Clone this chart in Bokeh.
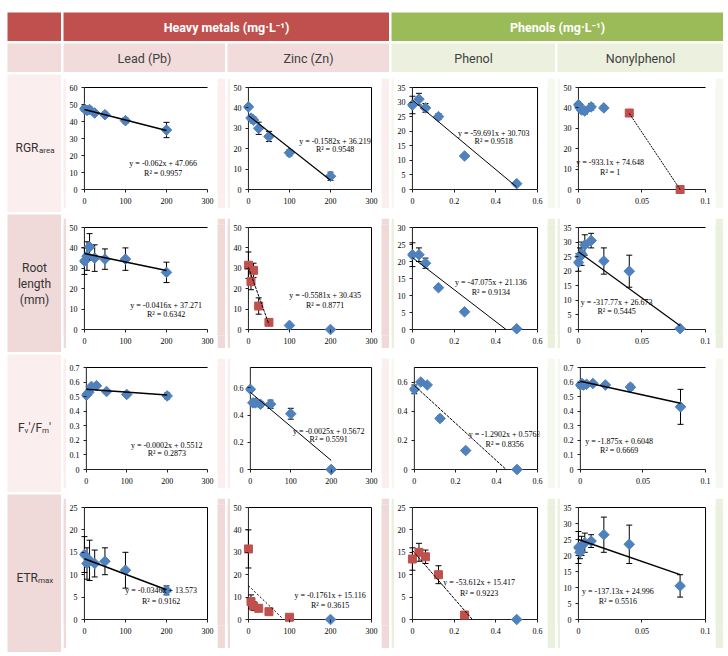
import math
from bokeh.plotting import figure
from bokeh.layouts import row, column
from bokeh.models import Range1d, Label, FixedTicker, Spacer
from bokeh.embed import file_html
from bokeh.resources import INLINE

# ---------------- data ----------------
PB_X = [0, 6.25, 12.5, 25, 50, 100, 200]
ZN_X = [0, 6.25, 12.5, 25, 50, 100, 200]
PH_X = [0, 0.03125, 0.0625, 0.125, 0.25, 0.5]
NP_X = [0, 0.00125, 0.0025, 0.005, 0.01, 0.02, 0.04, 0.08]

# RGR_area
RGR_PB_Y = [47.5, 46.5, 47, 45, 44, 40.5, 35]
RGR_PB_ERR = [1.5, 1.5, 1.5, 1.5, 1.5, 1.5, 4.5]
RGR_ZN_Y = [40.5, 35, 34, 30, 26, 18, 6.5]
RGR_ZN_ERR = [1, 1.5, 1.5, 3, 2.5, 1.5, 2]
RGR_PH_Y = [29, 31, 28, 25, 11.5, 2]
RGR_PH_ERR = [3, 2, 1.5, 1, 0.5, 0.5]
RGR_NP_Y = [41.5, 40, 39, 38.5, 40.5, 40, 37.5, 0]
RGR_NP_ERR = [1, 1, 1, 1.5, 1.5, 1, 0.5, 0]
RGR_NP_RED = [0, 0, 0, 0, 0, 0, 1, 1]

# Root length (mm)
ROOT_PB_Y = [33.5, 36, 40.5, 35, 34.5, 34.5, 28]
ROOT_PB_ERR = [6.5, 7, 6.5, 6.5, 5, 5.5, 5]
ROOT_ZN_Y = [31.5, 23.5, 29, 11.5, 3.5, 2, 0]
ROOT_ZN_ERR = [6.5, 4, 3.5, 4, 1, 0.5, 0]
ROOT_ZN_RED = [1, 1, 1, 1, 1, 0, 0]
ROOT_PH_Y = [22, 22, 19.5, 12.3, 5.2, 0.2]
ROOT_PH_ERR = [3.5, 2, 1.5, 0.5, 0.5, 0]
ROOT_NP_Y = [23, 25, 26, 29, 30.5, 23.5, 20, 0.3]
ROOT_NP_ERR = [3, 3, 4, 3.5, 2.5, 4.5, 5.5, 0]

# Fv'/Fm'
FV_PB_Y = [0.51, 0.53, 0.57, 0.575, 0.535, 0.515, 0.505]
FV_PB_ERR = [0.01, 0.01, 0.01, 0.01, 0.01, 0.015, 0.02]
FV_ZN_Y = [0.59, 0.49, 0.49, 0.48, 0.48, 0.41, 0.0]
FV_ZN_ERR = [0.01, 0.01, 0.01, 0.02, 0.03, 0.04, 0]
FV_PH_Y = [0.55, 0.6, 0.58, 0.35, 0.13, 0.0]
FV_PH_ERR = [0.03, 0.01, 0.01, 0.02, 0.015, 0]
FV_NP_Y = [0.58, 0.59, 0.58, 0.585, 0.59, 0.58, 0.565, 0.43]
FV_NP_ERR = [0.02, 0.01, 0.01, 0.01, 0.01, 0.01, 0.02, 0.12]

# ETR_max
ETR_PB_Y = [14.5, 12.5, 13.2, 12.5, 13, 11, 6.5]
ETR_PB_ERR = [4, 3.5, 4.5, 3, 3, 4, 1]
ETR_ZN_Y = [31.5, 8, 6, 5, 3.5, 1, 0]
ETR_ZN_ERR = [8.5, 3, 2, 1.5, 1, 0.5, 0]
ETR_ZN_RED = [1, 1, 1, 1, 1, 1, 0]
ETR_PH_Y = [13.5, 15, 14, 10, 1, 0]
ETR_PH_ERR = [2.5, 2, 1.5, 2, 0.5, 0]
ETR_PH_RED = [1, 1, 1, 1, 1, 0]
ETR_NP_Y = [22.5, 21, 23, 24, 24.5, 26.5, 23.5, 10.5]
ETR_NP_ERR = [5, 2, 3, 3, 2, 5.5, 6, 3.5]

# trend line end points
RGR_PB_TREND = ([0, 200], [47.07, 34.67])
RGR_ZN_TREND = ([0, 200], [36.22, 4.58])
RGR_PH_TREND = ([0, 0.5], [30.70, 0.86])
RGR_NP_TREND = ([0.04, 0.08], [37.32, 0.0])
ROOT_PB_TREND = ([0, 200], [37.27, 28.95])
ROOT_ZN_TREND = ([0, 50], [30.44, 2.53])
ROOT_PH_TREND = ([0, 0.449], [21.14, 0.0])
ROOT_NP_TREND = ([0, 0.08], [26.67, 1.25])
FV_PB_TREND = ([0, 200], [0.551, 0.511])
FV_ZN_TREND = ([0, 200], [0.567, 0.067])
FV_PH_TREND = ([0, 0.447], [0.576, 0.0])
FV_NP_TREND = ([0, 0.08], [0.605, 0.455])
ETR_PB_TREND = ([0, 200], [13.57, 6.65])
ETR_ZN_TREND = ([0, 85], [15.12, 0.15])
ETR_PH_TREND = ([0, 0.2876], [15.42, 0.0])
ETR_NP_TREND = ([0, 0.08], [25.0, 14.03])

# regression texts
EQ_TEXT = [
    ["y = -0.062x + 47.066", "y = -0.1582x + 36.219", "y = -59.691x + 30.703", "y = -933.1x + 74.648"],
    ["y = -0.0416x + 37.271", "y = -0.5581x + 30.435", "y = -47.075x + 21.136", "y = -317.77x + 26.673"],
    ["y = -0.0002x + 0.5512", "y = -0.0025x + 0.5672", "y = -1.2902x + 0.5763", "y = -1.875x + 0.6048"],
    ["y = -0.0346x + 13.573", "y = -0.1761x + 15.116", "y = -53.612x + 15.417", "y = -137.13x + 24.996"],
]
R2_TEXT = [
    ["R² = 0.9957", "R² = 0.9548", "R² = 0.9518", "R² = 1"],
    ["R² = 0.6342", "R² = 0.8771", "R² = 0.9134", "R² = 0.5445"],
    ["R² = 0.2873", "R² = 0.5591", "R² = 0.8356", "R² = 0.6669"],
    ["R² = 0.9162", "R² = 0.3615", "R² = 0.9223", "R² = 0.5516"],
]

# axes
X_MAX = [300, 300, 0.6, 0.1]
X_TICKS = [[0, 100, 200, 300], [0, 100, 200, 300], [0, 0.2, 0.4, 0.6], [0, 0.05, 0.1]]
X_LABELS = [["0", "100", "200", "300"], ["0", "100", "200", "300"],
            ["0", "0.2", "0.4", "0.6"], ["0", "0.05", "0.1"]]
Y_MAX = [[60, 50, 35, 50], [50, 50, 30, 35], [0.7, 0.75, 0.7, 0.7], [25, 50, 25, 35]]
Y_TICKS = [
    [[0, 10, 20, 30, 40, 50, 60], [0, 10, 20, 30, 40, 50], [0, 5, 10, 15, 20, 25, 30, 35], [0, 10, 20, 30, 40, 50]],
    [[0, 10, 20, 30, 40, 50], [0, 10, 20, 30, 40, 50], [0, 5, 10, 15, 20, 25, 30], [0, 5, 10, 15, 20, 25, 30, 35]],
    [[0, 0.1, 0.2, 0.3, 0.4, 0.5, 0.6, 0.7], [0, 0.2, 0.4, 0.6], [0, 0.2, 0.4, 0.6], [0, 0.1, 0.2, 0.3, 0.4, 0.5, 0.6, 0.7]],
    [[0, 5, 10, 15, 20, 25], [0, 10, 20, 30, 40, 50], [0, 5, 10, 15, 20, 25], [0, 5, 10, 15, 20, 25, 30, 35]],
]

COLUMN_TITLES = ["Lead (Pb)", "Zinc (Zn)", "Phenol", "Nonylphenol"]
GROUP_TITLES = ["Heavy metals (mg·L⁻¹)", "Phenols (mg·L⁻¹)"]

# ---------------- style / layout ----------------
BLUE = "#4F81BD"
RED = "#C0504D"
HDR_RED = "#C0504D"
HDR_GREEN = "#9BBB59"
SUB_RED = "#F2DCDB"
SUB_GREEN = "#EBF1DE"
CELL_COL = [["#FBEEEE", "#FBEEEE", "#F5F8EE", "#F5F8EE"],
            ["#F0D9D9", "#F0D9D9", "#E9F0DB", "#E9F0DB"]]
LAB_COL = ["#FBEEEE", "#F0D9D9"]

OFFSET_X, OFFSET_Y = 7, 12
LAB_W = 54
COL_W = [162, 162, 164, 166]
ROW_H = [138, 138, 138, 158]
HDR_H = [29, 29]
PAD_T, PAD_R, PAD_B, PAD_L = 4, 8, 4, 3  # pink ring around white chart area

EQ_POS = [
    [(192, 15.3, 9.4), (211, 23.5, 19.6), (0.39, 19.2, 16.5), (0.025, 13.2, 8.3)],
    [(199, 11.8, 7.4), (187, 16.5, 11.7), (0.376, 13.7, 11.0), (0.03, 9.2, 6.1)],
    [(199, 0.168, 0.108), (194, 0.283, 0.22), (0.44, 0.24, 0.17), (0.031, 0.195, 0.128)],
    [(187, 6.5, 4.1), (199, 10.8, 6.3), (0.32, 8.3, 5.9), (0.031, 8.8, 5.7)],
]
BOX = [[False, True, True, False], [False, True, True, False],
       [False, True, True, False], [True, True, True, True]]
TREND_STYLE = [
    [(1.5, "solid"), (1.2, "solid"), (1.0, "solid"), (1.0, "2 1")],
    [(1.5, "solid"), (1.0, "3 1"), (1.0, "solid"), (1.2, "solid")],
    [(1.5, "solid"), (1.0, "solid"), (1.0, "3 1"), (1.5, "solid")],
    [(1.5, "solid"), (1.0, "2 2"), (1.0, "3 1"), (1.5, "solid")],
]

PANELS = [
    [(PB_X, RGR_PB_Y, RGR_PB_ERR, None, RGR_PB_TREND),
     (ZN_X, RGR_ZN_Y, RGR_ZN_ERR, None, RGR_ZN_TREND),
     (PH_X, RGR_PH_Y, RGR_PH_ERR, None, RGR_PH_TREND),
     (NP_X, RGR_NP_Y, RGR_NP_ERR, RGR_NP_RED, RGR_NP_TREND)],
    [(PB_X, ROOT_PB_Y, ROOT_PB_ERR, None, ROOT_PB_TREND),
     (ZN_X, ROOT_ZN_Y, ROOT_ZN_ERR, ROOT_ZN_RED, ROOT_ZN_TREND),
     (PH_X, ROOT_PH_Y, ROOT_PH_ERR, None, ROOT_PH_TREND),
     (NP_X, ROOT_NP_Y, ROOT_NP_ERR, None, ROOT_NP_TREND)],
    [(PB_X, FV_PB_Y, FV_PB_ERR, None, FV_PB_TREND),
     (ZN_X, FV_ZN_Y, FV_ZN_ERR, None, FV_ZN_TREND),
     (PH_X, FV_PH_Y, FV_PH_ERR, None, FV_PH_TREND),
     (NP_X, FV_NP_Y, FV_NP_ERR, None, FV_NP_TREND)],
    [(PB_X, ETR_PB_Y, ETR_PB_ERR, None, ETR_PB_TREND),
     (ZN_X, ETR_ZN_Y, ETR_ZN_ERR, ETR_ZN_RED, ETR_ZN_TREND),
     (PH_X, ETR_PH_Y, ETR_PH_ERR, ETR_PH_RED, ETR_PH_TREND),
     (NP_X, ETR_NP_Y, ETR_NP_ERR, None, ETR_NP_TREND)],
]

TEXT_FONT = "Roboto"
SERIF = "Liberation Serif"


def flat_fig(w, h, color):
    p = figure(width=w, height=h, x_range=Range1d(0, w), y_range=Range1d(0, h),
               toolbar_location=None, output_backend="svg", min_border=0,
               x_axis_location=None, y_axis_location=None)
    p.grid.visible = False
    p.outline_line_color = None
    p.background_fill_color = color
    p.border_fill_color = color
    return p


def add_text(p, x, y, text, size="12px", color="#333333", bold=False,
             align="center", baseline="middle", font=TEXT_FONT):
    p.add_layout(Label(x=x, y=y, text=text, text_font=font, text_font_size=size,
                       text_color=color, text_font_style="bold" if bold else "normal",
                       text_align=align, text_baseline=baseline))


def panel(r, c):
    xs, ys, errs, red, trend = PANELS[r][c]
    cw, ch = COL_W[c], ROW_H[r]
    fw = cw - PAD_R - PAD_L
    fh = ch - PAD_T - PAD_B
    mbl, mbr, mbt = 11, 8, 6
    mbb = 13 if r < 3 else 23
    pxl, pxr, pyb, pyt = 5, 2, 6, 3
    xmax = X_MAX[c]
    ymax = Y_MAX[r][c]
    fw_frame = fw - mbl - mbr
    fh_frame = fh - mbt - mbb
    xper = xmax / (fw_frame - pxl - pxr)
    yper = ymax / (fh_frame - pyb - pyt)
    p = figure(width=fw, height=fh,
               x_range=Range1d(-pxl * xper, xmax + pxr * xper),
               y_range=Range1d(-pyb * yper, ymax + pyt * yper),
               toolbar_location=None, output_backend="svg",
               min_border_left=mbl, min_border_right=mbr,
               min_border_top=mbt, min_border_bottom=mbb)
    p.grid.visible = False
    p.outline_line_color = None
    p.background_fill_color = "white"
    p.border_fill_color = "white"

    xa = p.xaxis[0]
    xa.ticker = FixedTicker(ticks=X_TICKS[c])
    xa.major_label_overrides = {t: l for t, l in zip(X_TICKS[c], X_LABELS[c])}
    xa.major_tick_in = pyb
    xa.major_tick_out = -(pyb - 3)
    ya = p.yaxis[0]
    ya.ticker = FixedTicker(ticks=Y_TICKS[r][c])
    ya.major_label_overrides = {t: ("%g" % t) for t in Y_TICKS[r][c]}
    ya.major_tick_in = pxl
    ya.major_tick_out = -(pxl - 3)
    for ax in (xa, ya):
        ax.axis_line_color = None
        ax.major_tick_line_color = "#222222"
        ax.minor_tick_line_color = None
        ax.major_label_text_font = SERIF
        ax.major_label_text_font_size = "8px"
        ax.major_label_text_color = "black"
        ax.major_label_standoff = 2

    # axis lines at zero and frame lines
    p.segment(x0=[0, 0], y0=[0, 0], x1=[xmax, 0], y1=[0, ymax], line_color="#222222", line_width=1)
    p.segment(x0=[0], y0=[ymax], x1=[xmax], y1=[ymax], line_color="black", line_width=1.2)
    if BOX[r][c]:
        p.segment(x0=[xmax], y0=[0], x1=[xmax], y1=[ymax], line_color="black", line_width=1)

    # error bars
    ex = [x for x, e in zip(xs, errs) if e > 0]
    ey = [y for y, e in zip(ys, errs) if e > 0]
    ee = [e for e in errs if e > 0]
    lo = [y - e for y, e in zip(ey, ee)]
    hi = [y + e for y, e in zip(ey, ee)]
    p.segment(x0=ex, y0=lo, x1=ex, y1=hi, line_color="black", line_width=1)
    p.scatter(ex + ex, lo + hi, marker="dash", size=6, line_color="black", line_width=1)

    # markers
    flags = red if red is not None else [0] * len(xs)
    bx = [x for x, f in zip(xs, flags) if not f]
    by = [y for y, f in zip(ys, flags) if not f]
    rx = [x for x, f in zip(xs, flags) if f]
    ry = [y for y, f in zip(ys, flags) if f]
    if bx:
        p.scatter(bx, by, marker="square", angle=math.pi / 4, size=7.5,
                  fill_color=BLUE, line_color=BLUE)
    if rx:
        p.scatter(rx, ry, marker="square", size=8, fill_color=RED, line_color=RED)

    # trend line
    lw, dash = TREND_STYLE[r][c]
    p.line(trend[0], trend[1], line_color="black", line_width=lw, line_dash=dash)

    ex_, ey1, ey2 = EQ_POS[r][c]
    for txt, yy in ((EQ_TEXT[r][c], ey1), (R2_TEXT[r][c], ey2)):
        p.add_layout(Label(x=ex_, y=yy, text=txt, text_font=SERIF, text_font_size="8px",
                           text_color="black", text_align="center", text_baseline="middle"))

    col = CELL_COL[r % 2][c]
    top = flat_fig(cw, PAD_T, col)
    bot = flat_fig(cw, PAD_B, col)
    left = flat_fig(PAD_L, fh, col)
    right = flat_fig(PAD_R, fh, col)
    return column(top, row(left, p, right), bot)


def row_label(r):
    h = ROW_H[r]
    p = flat_fig(LAB_W, h, LAB_COL[r % 2])
    cy = h / 2
    base = cy - 4
    if r == 0:
        add_text(p, 8, base, "RGR", baseline="alphabetic", align="left")
        add_text(p, 31.5, base - 3, "area", size="8px", baseline="alphabetic", align="left")
    elif r == 1:
        add_text(p, LAB_W / 2, cy + 16, "Root")
        add_text(p, LAB_W / 2, cy, "length")
        add_text(p, LAB_W / 2, cy - 16, "(mm)")
    elif r == 2:
        s = 10.5
        add_text(p, s, base, "F", baseline="alphabetic", align="left")
        add_text(p, s + 6.6, base - 3, "v", size="8px", baseline="alphabetic", align="left")
        add_text(p, s + 10.5, base, "'/F", baseline="alphabetic", align="left")
        add_text(p, s + 24.0, base - 3, "m", size="8px", baseline="alphabetic", align="left")
        add_text(p, s + 31.0, base, "'", baseline="alphabetic", align="left")
    else:
        add_text(p, 9, base, "ETR", baseline="alphabetic", align="left")
        add_text(p, 30.5, base - 3, "max", size="8px", baseline="alphabetic", align="left")
    return p


# header rows
h1 = HDR_H[0]
hm_w = COL_W[0] + COL_W[1] + 2
ph_w = COL_W[2] + COL_W[3] + 2
g0 = flat_fig(LAB_W, h1, HDR_RED)
g1 = flat_fig(hm_w, h1, HDR_RED)
add_text(g1, hm_w / 2, h1 / 2, GROUP_TITLES[0], size="12.5px", color="white", bold=True)
g2 = flat_fig(ph_w, h1, HDR_GREEN)
add_text(g2, ph_w / 2, h1 / 2, GROUP_TITLES[1], size="12.5px", color="white", bold=True)
header1 = row(g0, g1, g2, spacing=2)

h2 = HDR_H[1]
subs = [flat_fig(LAB_W, h2, SUB_RED)]
for c in range(4):
    col = SUB_RED if c < 2 else SUB_GREEN
    f = flat_fig(COL_W[c], h2, col)
    add_text(f, COL_W[c] / 2, h2 / 2, COLUMN_TITLES[c], size="12.5px", color="#404040")
    subs.append(f)
header2 = row(*subs, spacing=2)

body_rows = []
for r in range(4):
    body_rows.append(row(row_label(r), *[panel(r, c) for c in range(4)], spacing=2))

table = column(header1, header2, *body_rows, spacing=2)
layout = column(Spacer(width=10, height=OFFSET_Y),
                row(Spacer(width=OFFSET_X, height=10), table))

open("out.html", "w").write(file_html(layout, INLINE))
